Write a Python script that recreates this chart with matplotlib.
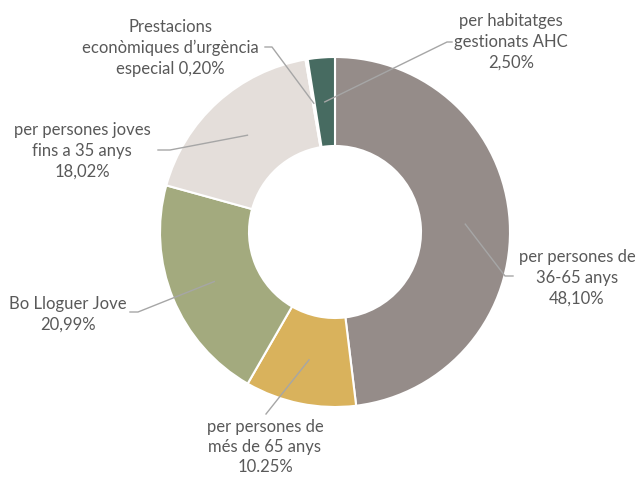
import numpy as np
import matplotlib
matplotlib.use("Agg")
import matplotlib.pyplot as plt

labels = ["per persones de\n36-65 anys\n48,10%",
          "per persones de\nmés de 65 anys\n10.25%",
          "Bo Lloguer Jove\n20,99%",
          "per persones joves\nfins a 35 anys\n18,02%",
          "Prestacions\neconòmiques d\u2019urgència\nespecial 0,20%",
          "per habitatges\ngestionats AHC\n2,50%"]
values = [48.10, 10.25, 20.99, 18.02, 0.20, 2.50]
colors = ["#958C89", "#D9B25C", "#A3AA7E", "#E4DEDA", "#FFFFFF", "#476B61"]

H = 479
# layout (pixel coordinates, top-left origin, of label text centres and leader-line start)
text_pos = [(577, 278), (265, 447), (68, 314), (82, 151), (170, 48), (511, 42)]
line_start = [(513, 276), (266, 414), (130, 312), (158, 150), (265, 47), (452, 42)]
elbow_dx = [-8, 0, 8, 12, 7, -5]

plt.rcParams['font.family'] = ['Lato', 'DejaVu Sans']
fig = plt.figure(figsize=(6.39, 4.79), dpi=100)
ax = fig.add_axes([0, 0, 1, 1])

cx, cy, R, w = 335, H - 232, 175, 89
wedges, _ = ax.pie(values, colors=colors, startangle=90, counterclock=False,
                   center=(cx, cy), radius=R,
                   wedgeprops=dict(width=w, edgecolor='white', linewidth=1.5))
ax.set_xlim(0, 639)
ax.set_ylim(0, H)
ax.set_aspect('equal')
ax.axis('off')

rmid = R - w / 2
for i, (wd, lab, tp, ls, edx) in enumerate(zip(wedges, labels, text_pos, line_start, elbow_dx)):
    ang = np.deg2rad((wd.theta1 + wd.theta2) / 2)
    ax_x = cx + rmid * np.cos(ang)
    ax_y = cy + rmid * np.sin(ang)
    xs = [ls[0], ls[0] + edx, ax_x]
    ys = [H - ls[1], H - ls[1], ax_y]
    ax.plot(xs, ys, color='#A6A6A6', lw=1.0, zorder=3)
    ax.text(tp[0], H - tp[1], lab, ha='center', va='center', fontsize=12,
            color='#595959', linespacing=1.3 if i == 1 else 1.35)

fig.savefig("out.png", dpi=100)
